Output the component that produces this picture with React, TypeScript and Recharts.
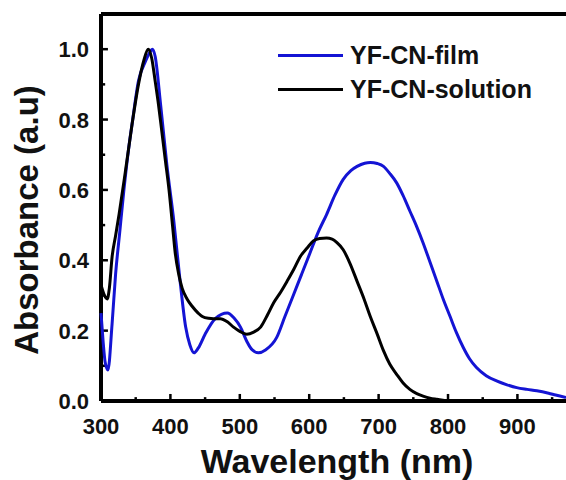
import React from 'react';
import { LineChart, Line, XAxis, YAxis, Legend, Label, ReferenceLine } from 'recharts';

// film spectrum (blue)
const filmWavelength = [
  300, 303, 306, 310, 316, 321, 327, 333, 340, 345, 354, 364, 370, 374, 378, 386, 395, 405, 414, 422,
  428, 434, 440, 450, 465, 482, 492, 501, 510, 518, 527, 537, 553, 565, 577, 589, 601, 613, 625, 637,
  649, 660, 669, 680, 688, 698, 707, 716, 726, 735, 745, 755, 764, 774, 784, 793, 803, 812, 822, 831,
  841, 855, 870, 885, 899, 914, 928, 945, 955, 970,
];
const filmAbsorbance = [
  0.25, 0.17, 0.11, 0.088, 0.22, 0.36, 0.48, 0.6, 0.72, 0.79, 0.91, 0.965, 0.99, 1.0, 0.98, 0.84, 0.67, 0.51, 0.34, 0.21,
  0.16, 0.137, 0.15, 0.19, 0.235, 0.25, 0.235, 0.21, 0.17, 0.145, 0.137, 0.145, 0.18, 0.24, 0.3, 0.36, 0.42, 0.48, 0.53, 0.585,
  0.63, 0.655, 0.667, 0.676, 0.678, 0.675, 0.667, 0.647, 0.62, 0.585, 0.54, 0.495, 0.45, 0.395, 0.34, 0.29, 0.24, 0.195, 0.152, 0.12,
  0.095, 0.072, 0.057, 0.046, 0.038, 0.033, 0.029, 0.022, 0.017, 0.01,
];

// solution spectrum (black)
const solutionWavelength = [
  300, 305, 309, 312, 316, 321, 326, 335, 345, 354, 362, 368, 373, 378, 383, 388, 393, 398, 403, 407,
  412, 417, 424, 431, 440, 446, 455, 462, 472, 482, 491, 500, 510, 520, 530, 540, 549, 559, 568, 578,
  587, 597, 606, 615, 625, 633, 640, 649, 659, 669, 679, 688, 698, 707, 716, 726, 735, 745, 755, 764,
  774, 784, 800, 820,
];
const solutionAbsorbance = [
  0.33, 0.3, 0.29, 0.32, 0.41, 0.47, 0.53, 0.65, 0.79, 0.9, 0.97, 1.0, 0.975, 0.91, 0.84, 0.76, 0.68, 0.6, 0.5, 0.42,
  0.36, 0.32, 0.29, 0.27, 0.25, 0.24, 0.235, 0.234, 0.234, 0.225, 0.21, 0.198, 0.19, 0.196, 0.21, 0.245, 0.28, 0.31, 0.34, 0.375,
  0.41, 0.435, 0.455, 0.462, 0.463, 0.46, 0.45, 0.43, 0.39, 0.34, 0.29, 0.24, 0.19, 0.143, 0.105, 0.076, 0.052, 0.033, 0.021, 0.014,
  0.008, 0.005, 0.001, 0,
];

const seriesNames = ['YF-CN-film', 'YF-CN-solution'];
const xTicks = [300, 350, 400, 450, 500, 550, 600, 650, 700, 750, 800, 850, 900, 950];
const yTicks = [0, 0.1, 0.2, 0.3, 0.4, 0.5, 0.6, 0.7, 0.8, 0.9, 1.0];
const X_DOMAIN = [300, 970];
const Y_DOMAIN = [0, 1.1];

const FONT = '"Liberation Sans", Arial, sans-serif';
const BLUE = '#1414d4';

// inward tick lengths, in axis units (about 7px major / 4px minor)
const X_TICK_LEN = { major: 0.02, minor: 0.011 };
const Y_TICK_LEN = { major: 10, minor: 6 };

const isMajorX = (v: number) => v % 100 === 0;
const isMajorY = (v: number) => Math.round(v * 10) % 2 === 0;

const buildTable = () => {
  const rows: Record<number, any> = {};
  filmWavelength.forEach((w, i) => {
    rows[w] = { ...(rows[w] || { wl: w }), film: filmAbsorbance[i] };
  });
  solutionWavelength.forEach((w, i) => {
    rows[w] = { ...(rows[w] || { wl: w }), solution: solutionAbsorbance[i] };
  });
  return Object.values(rows).sort((a: any, b: any) => a.wl - b.wl);
};

const XTick = (props: any) => {
  const { x, y, payload } = props;
  if (!isMajorX(payload.value)) return <g />;
  return (
    <text x={x} y={y + 33} textAnchor="middle" fontFamily={FONT} fontWeight="bold" fontSize={22} fill="#111">
      {payload.value}
    </text>
  );
};

const YTick = (props: any) => {
  const { x, y, payload } = props;
  if (!isMajorY(payload.value)) return <g />;
  return (
    <text x={x - 12} y={y + 8} textAnchor="end" fontFamily={FONT} fontWeight="bold" fontSize={22} fill="#111">
      {payload.value.toFixed(1)}
    </text>
  );
};

const renderLegend = (props: any) => {
  const { payload } = props;
  return (
    <div style={{ fontFamily: FONT, fontWeight: 'bold', fontSize: 25, color: '#111' }}>
      {(payload || []).map((entry: any, index: number) => (
        <div key={index} style={{ display: 'flex', alignItems: 'center', height: 34 }}>
          <div style={{ width: 65, height: 3, background: entry.color, marginRight: 7 }} />
          <span style={{ lineHeight: '34px' }}>{entry.value}</span>
        </div>
      ))}
    </div>
  );
};

export default function App() {
  const data = buildTable();
  return (
    <div style={{ position: 'absolute', left: 0, top: 0 }}>
      <LineChart width={566} height={480} data={data} margin={{ top: 14, right: 0, bottom: 0, left: 0 }}>
        <XAxis
          dataKey="wl"
          type="number"
          domain={X_DOMAIN}
          ticks={xTicks}
          interval={0}
          height={79}
          tickSize={0}
          tickMargin={0}
          tickLine={false}
          axisLine={false}
          tick={<XTick />}
        >
          <Label
            content={() => (
              <text x={337} y={473} textAnchor="middle" fontFamily={FONT} fontWeight="bold" fontSize={34} fill="#111">
                Wavelength (nm)
              </text>
            )}
          />
        </XAxis>
        <YAxis
          type="number"
          domain={Y_DOMAIN}
          ticks={yTicks}
          interval={0}
          width={101}
          tickSize={0}
          tickMargin={0}
          tickLine={false}
          axisLine={false}
          tick={<YTick />}
        >
          <Label
            content={() => (
              <text
                x={38}
                y={220}
                transform="rotate(-90 38 220)"
                textAnchor="middle"
                fontFamily={FONT}
                fontWeight="bold"
                fontSize={33}
                fill="#111"
              >
                Absorbance (a.u)
              </text>
            )}
          />
        </YAxis>

        {/* plot frame: left, bottom and top borders */}
        <ReferenceLine x={X_DOMAIN[0]} stroke="#000" strokeWidth={4} />
        <ReferenceLine y={Y_DOMAIN[0]} stroke="#000" strokeWidth={4} />
        <ReferenceLine y={Y_DOMAIN[1]} stroke="#000" strokeWidth={4} />

        {/* inward tick marks */}
        {xTicks.map((v) => (
          <ReferenceLine
            key={`xt-${v}`}
            segment={[
              { x: v, y: Y_DOMAIN[0] },
              { x: v, y: Y_DOMAIN[0] + (isMajorX(v) ? X_TICK_LEN.major : X_TICK_LEN.minor) },
            ]}
            stroke="#000"
            strokeWidth={2.5}
          />
        ))}
        {yTicks.map((v) => (
          <ReferenceLine
            key={`yt-${v}`}
            segment={[
              { x: X_DOMAIN[0], y: v },
              { x: X_DOMAIN[0] + (isMajorY(v) ? Y_TICK_LEN.major : Y_TICK_LEN.minor), y: v },
            ]}
            stroke="#000"
            strokeWidth={2.5}
          />
        ))}

        <Legend
          layout="vertical"
          align="center"
          verticalAlign="middle"
          content={renderLegend}
          wrapperStyle={{ left: 278, top: 38, bottom: 'auto', width: 'auto' }}
        />
        <Line
          type="monotone"
          dataKey="film"
          name={seriesNames[0]}
          stroke={BLUE}
          strokeWidth={3}
          dot={false}
          connectNulls
          isAnimationActive={false}
        />
        <Line
          type="monotone"
          dataKey="solution"
          name={seriesNames[1]}
          stroke="#000"
          strokeWidth={3}
          dot={false}
          connectNulls
          isAnimationActive={false}
        />
      </LineChart>
    </div>
  );
}
